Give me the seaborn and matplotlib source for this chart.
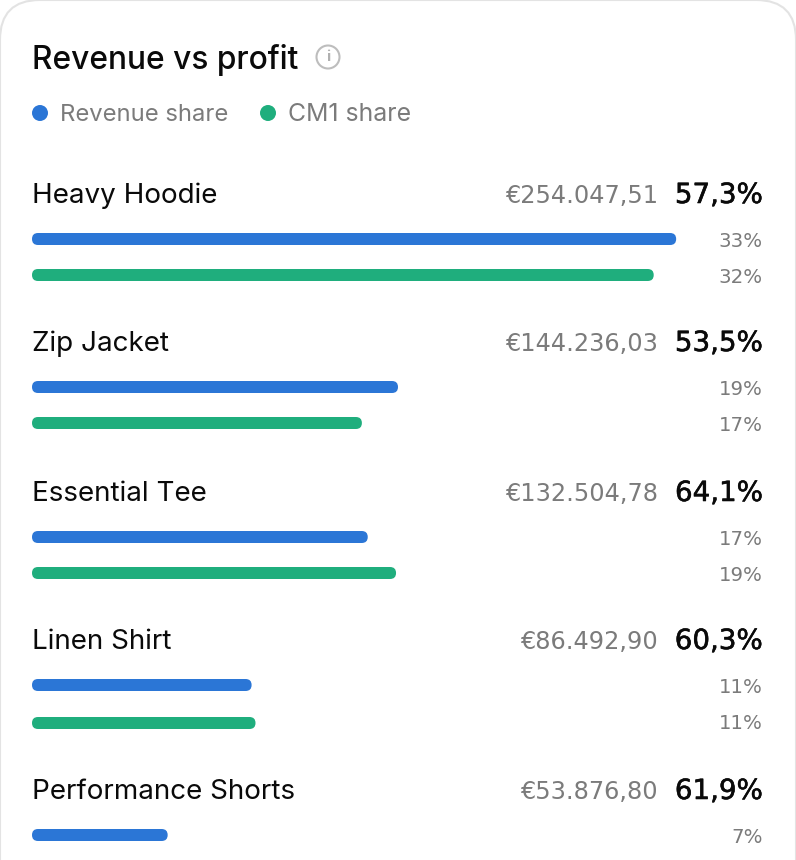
import matplotlib
matplotlib.use("Agg")
import matplotlib.pyplot as plt
import matplotlib.patheffects as pe
import pandas as pd
import seaborn as sns
from matplotlib.patches import Circle, FancyBboxPatch
from matplotlib.transforms import IdentityTransform

products = ["Heavy Hoodie", "Zip Jacket", "Essential Tee", "Linen Shirt", "Performance Shorts"]
revenue_labels = ["€254.047,51", "€144.236,03", "€132.504,78", "€86.492,90", "€53.876,80"]
margin_labels = ["57,3%", "53,5%", "64,1%", "60,3%", "61,9%"]
revenue_share = [33.0, 18.75, 17.2, 11.25, 6.95]
cm1_share = [31.85, 16.9, 18.65, 11.45, None]  # last one is cut off in the picture
revenue_share_labels = ["33%", "19%", "17%", "11%", "7%"]
cm1_share_labels = ["32%", "17%", "19%", "11%", ""]
metrics = ["Revenue share", "CM1 share"]

W, H = 796, 860
BLUE = "#2b76d6"
GREEN = "#1fae7d"
BLACK = "#0a0a0a"
GREY = "#7b7b7b"
px = 72 / 100  # font sizes below are given in pixels

sns.set_theme(style="white")
plt.rcParams["font.family"] = ["Inter", "DejaVu Sans"]
NUM_FONT = "DejaVu Sans"  # wide digits of equal width, like the reference

fig = plt.figure(figsize=(W / 100, H / 100), dpi=100, facecolor="white")

# page layer, in pixel coords
page = fig.add_axes([0, 0, 1, 1])
page.set_xlim(0, W)
page.set_ylim(H, 0)
page.axis("off")
page.add_patch(FancyBboxPatch((0, 0), W, H + 80, boxstyle="round,pad=0,rounding_size=40",
                              fc="white", ec="#e3e3e3", lw=1.5, clip_on=True))

page.text(32.5, 69, "Revenue vs profit", fontsize=31.7 * px, color=BLACK, weight="medium")
page.add_patch(Circle((328, 57), 11.5, fc="none", ec="#bdbdbd", lw=1.5))
page.text(328, 57, "i", fontsize=15 * px, color="#b0b0b0", ha="center", va="center", weight="bold")

page.scatter([40, 268], [113, 113], s=(16 * px) ** 2, c=[BLUE, GREEN], linewidths=0)
page.text(60.5, 121, metrics[0], fontsize=23.8 * px, color=GREY)
page.text(288, 121, metrics[1], fontsize=24.8 * px, color=GREY)

row_base = [203, 351, 501, 649, 799]
row_gap = [36, 36, 36, 38, 36]
palette = {metrics[0]: BLUE, metrics[1]: GREEN}
medium = [pe.withStroke(linewidth=0.4, foreground=BLACK)]  # DejaVu has no medium weight

for i, product in enumerate(products):
    base = row_base[i]
    gap = row_gap[i]
    page.text(32.5, base, product, fontsize=27.8 * px, color=BLACK)
    page.text(658, base, revenue_labels[i], fontsize=24 * px, color=GREY, ha="right", family=NUM_FONT)
    page.text(763, base, margin_labels[i], fontsize=27.7 * px, color=BLACK, ha="right", family=NUM_FONT,
              path_effects=medium)

    df = pd.DataFrame({"metric": metrics, "share": [revenue_share[i], cm1_share[i]]})
    top = base + 36 - gap / 2
    ax = fig.add_axes([32 / W, 1 - (top + 2 * gap) / H, 732 / W, 2 * gap / H])
    sns.barplot(data=df, x="share", y="metric", hue="metric", order=metrics, hue_order=metrics,
                palette=palette, width=12 / gap, legend=False, ax=ax, saturation=1)
    ax.set_xlim(0, 37.5)
    ax.set_ylim(1.5, -0.5)
    ax.axis("off")

    # swap the square bars for rounded ones
    for bar in list(ax.patches):
        if bar.get_width() != bar.get_width() or bar.get_width() == 0:
            continue
        (x0, y0), (x1, y1) = ax.transData.transform(
            [(bar.get_x(), bar.get_y()), (bar.get_x() + bar.get_width(), bar.get_y() + bar.get_height())])
        y0, y1 = min(y0, y1), max(y0, y1)
        rounded = FancyBboxPatch((x0, y0), x1 - x0, y1 - y0, boxstyle="round,pad=0,rounding_size=6",
                                 fc=bar.get_facecolor(), ec="none", transform=IdentityTransform())
        fig.add_artist(rounded)
        bar.set_visible(False)

    page.text(763, base + 44, revenue_share_labels[i], fontsize=19.8 * px, color=GREY, ha="right", family=NUM_FONT)
    page.text(763, base + 80, cm1_share_labels[i], fontsize=19.8 * px, color=GREY, ha="right", family=NUM_FONT)

fig.savefig("out.png", dpi=100)
